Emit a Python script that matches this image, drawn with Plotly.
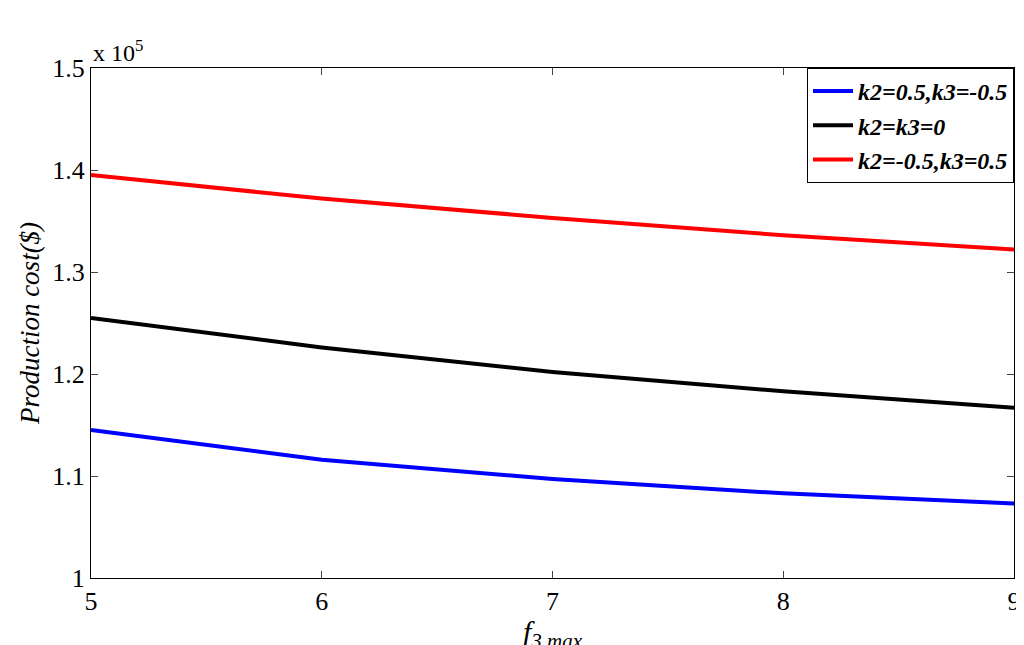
import plotly.graph_objects as go

x = [5, 6, 7, 8, 9]
blue = [1.145, 1.116, 1.097, 1.083, 1.073]
black = [1.255, 1.226, 1.202, 1.183, 1.167]
red = [1.395, 1.372, 1.353, 1.336, 1.322]
names = ["k2=0.5,k3=-0.5", "k2=k3=0", "k2=-0.5,k3=0.5"]
yticks = [1.0, 1.1, 1.2, 1.3, 1.4, 1.5]
ylabels = ["1", "1.1", "1.2", "1.3", "1.4", "1.5"]

fig = go.Figure()
for ys, c, n in zip([blue, black, red], ["#0000ff", "#000000", "#ff0000"], names):
    fig.add_trace(go.Scatter(x=x, y=ys, mode="lines", name="<b><i>" + n + "</i></b>",
                             line=dict(color=c, width=4)))

ax = dict(showline=True, linecolor="black", linewidth=1, mirror="ticks", ticks="inside",
          ticklen=7, showgrid=False, zeroline=False,
          tickfont=dict(family="Liberation Serif", size=26, color="black"))
fig.update_layout(
    width=1024, height=645, plot_bgcolor="white", paper_bgcolor="white",
    font=dict(family="Liberation Serif", color="black", size=26),
    margin=dict(l=83, r=11, t=60, b=75),
    xaxis=dict(range=[5, 9], tickvals=x,
               title=dict(text="<i>f<sub>3,max</sub></i>", font=dict(size=30), standoff=2), **ax),
    yaxis=dict(range=[1.0, 1.5], tickvals=yticks, ticktext=ylabels,
               title=dict(text="<i>Production cost($)</i>", font=dict(size=27), standoff=4), **ax),
    legend=dict(x=1, y=1, xanchor="right", yanchor="top", bordercolor="black", borderwidth=1,
                bgcolor="white", font=dict(size=24, family="Liberation Serif"), itemwidth=40),
    annotations=[dict(x=0, y=1, xref="paper", yref="paper", xanchor="left", yanchor="bottom",
                      text="x 10<sup>5</sup>", showarrow=False, font=dict(size=24))],
)
fig.write_html("out.html")
